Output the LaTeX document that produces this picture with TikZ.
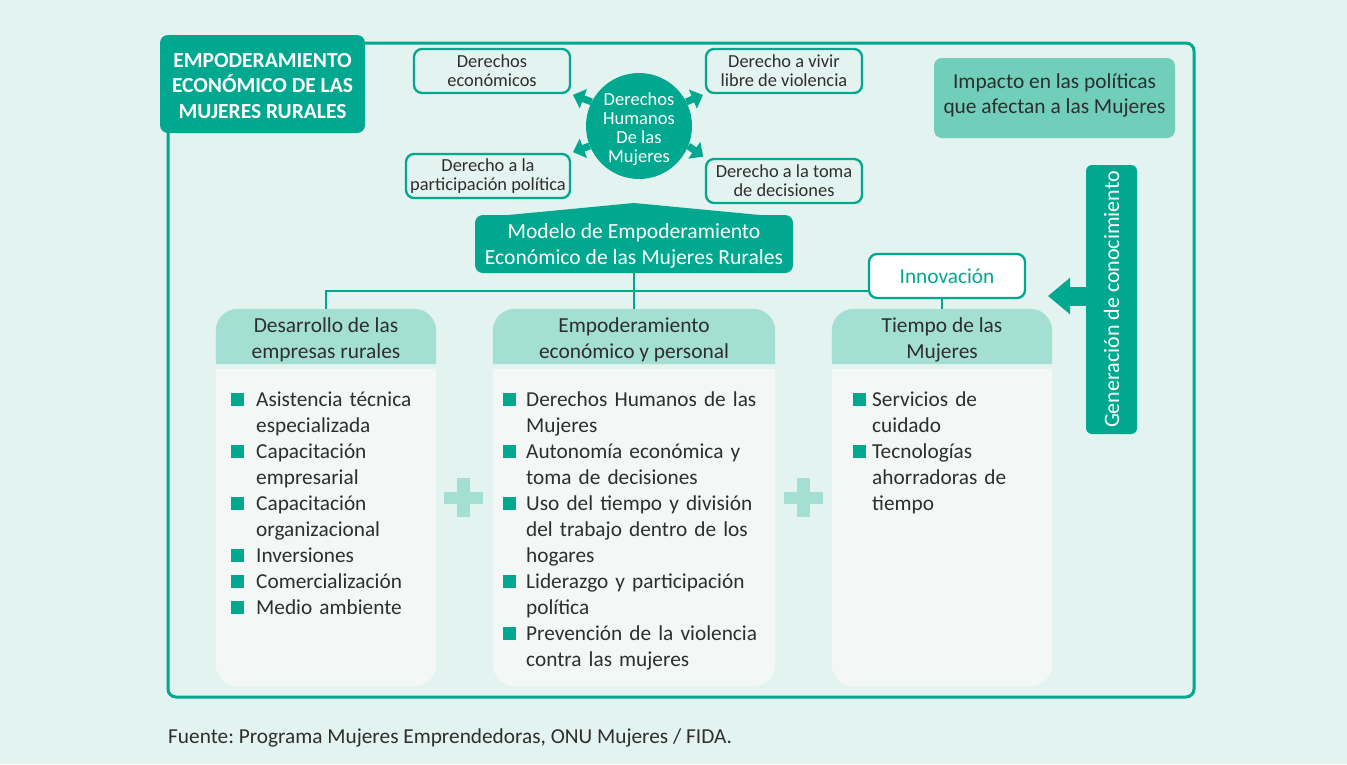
\documentclass[tikz,border=0pt]{standalone}
\usepackage{fontspec}
\setmainfont{Carlito}
\usetikzlibrary{arrows.meta}
\frenchspacing
\definecolor{tealc}{HTML}{00A88F}
\definecolor{bgc}{HTML}{E3F3EF}
\definecolor{hdrc}{HTML}{A4DFD3}
\definecolor{bodyc}{HTML}{F3F8F7}
\definecolor{impc}{HTML}{70CEBB}
\definecolor{txtc}{HTML}{2E2E2E}
\pgfdeclarelayer{back}
\pgfsetlayers{back,main}
\newcommand{\bitem}[2]{\hangindent=#1\hangafter=1\noindent\makebox[#1][l]{\textcolor{tealc}{\rule{13pt}{13pt}}}#2\par}
\tikzset{
  conn/.style={draw=tealc, line width=2.5pt},
  rbox/.style={draw=tealc, line width=2.3pt, rounded corners=8pt, fill=bgc, align=center, text=txtc,
     font=\fontsize{18.4}{19}\selectfont, inner sep=0pt, minimum height=44pt},
  carrow/.style={draw=tealc, line width=7pt, -{Triangle[length=11pt,width=20pt]}, shorten >=2pt},
  hdrtext/.style={align=center, text=txtc, font=\fontsize{21.4}{26}\selectfont, inner sep=0pt},
  bodynode/.style={inner sep=0pt},
  blist/.style={anchor=base west, inner sep=0pt, text width=320pt, text=txtc,
     font=\fontsize{21.3}{26}\selectfont, execute at begin node={\raggedright}},
  plusarm/.style={fill=hdrc},
}
\begin{document}
\begin{tikzpicture}[x=1pt,y=-1pt]
\useasboundingbox (0,0) rectangle (1347,764);
\begin{pgfonlayer}{back}
\fill[bgc] (0,0) rectangle (1347,764);
\end{pgfonlayer}

% outer frame
\draw[draw=tealc, line width=3pt, rounded corners=8pt] (168,43) rectangle (1194,697);

% title
\node[fill=tealc, rounded corners=8pt, minimum width=205pt, minimum height=98pt, inner sep=0pt] (title) at (262.5,84) {};
\node[text=white, align=center, inner sep=0pt, font=\bfseries\fontsize{21.5}{25.5}\selectfont] (titlet) at ([yshift=-2pt]title.center)
  {EMPODERAMIENTO\\ECONÓMICO DE LAS\\MUJERES RURALES};

% rights
\node[circle, fill=tealc, minimum size=106pt, inner sep=0pt] (hc) at (639,126) {};
\node[text=white, align=center, inner sep=0pt, font=\fontsize{18.5}{19}\selectfont] (hct) at ([yshift=-3.5pt]hc.center)
  {Derechos\\Humanos\\De las\\Mujeres};
\node[rbox, minimum width=156pt] (de) at (492,71) {Derechos\\económicos};
\node[rbox, minimum width=156pt] (dv) at (784,71) {Derecho a vivir\\libre de violencia};
\node[rbox, minimum width=164pt] (dp) at (488,176) {Derecho a la\\participación política};
\node[rbox, minimum width=156pt] (dt) at (784,181) {Derecho a la toma\\de decisiones};
\draw[carrow] (hc.153) -- (de.south east);
\draw[carrow] (hc.27) -- (dv.south west);
\draw[carrow] (hc.202) -- (dp.north east);
\draw[carrow] (hc.338) -- (dt.north west);

% impacto
\node[fill=impc, rounded corners=8pt, minimum width=241pt, minimum height=80pt, inner sep=0pt] (imp) at (1054.5,98) {};
\node[text=txtc, align=center, inner sep=0pt, font=\fontsize{21.4}{25}\selectfont] (impt) at ([yshift=3pt]imp.center)
  {Impacto en las políticas\\que afectan a las Mujeres};

% generacion
\node[fill=tealc, rounded corners=6pt, minimum width=269pt, minimum height=51pt, inner sep=0pt,
  text=white, rotate=90, font=\fontsize{22}{24}\selectfont] (gen) at (1111.5,299.5)
  {Generación de conocimiento};
\coordinate (gtip) at (1048,296);
\draw[draw=tealc, line width=19pt, -{Triangle[length=22pt,width=35pt]}] (gen.north |- gtip) -- (gtip);

% modelo
\node[fill=tealc, rounded corners=8pt, minimum width=318pt, minimum height=58pt, inner sep=0pt] (mod) at (634,244) {};
\fill[tealc] ([xshift=4pt,yshift=-3pt]mod.north west) -- (634,203) -- ([xshift=-4pt,yshift=-3pt]mod.north east) -- cycle;
\node[text=white, align=center, inner sep=0pt, font=\fontsize{21.6}{26}\selectfont] (modt) at ([yshift=-2pt]mod.center)
  {Modelo de Empoderamiento\\Económico de las Mujeres Rurales};

% innovacion
\node[draw=tealc, line width=2.3pt, fill=white, rounded corners=8pt, minimum width=156pt, minimum height=44pt,
  inner sep=0pt, text=tealc, font=\fontsize{21.3}{24}\selectfont] (inno) at (947,276) {Innovación};

% headers
\node[inner sep=0pt, minimum width=220pt, minimum height=55pt] (h1) at (326,336.5) {};
\node[inner sep=0pt, minimum width=282pt, minimum height=55pt] (h2) at (634,336.5) {};
\node[inner sep=0pt, minimum width=220pt, minimum height=55pt] (h3) at (942,336.5) {};
\node[hdrtext] (h1t) at ([yshift=-3pt]h1.center) {Desarrollo de las\\empresas rurales};
\node[hdrtext] (h2t) at ([yshift=-3pt]h2.center) {Empoderamiento\\económico y personal};
\node[hdrtext] (h3t) at ([yshift=-3pt]h3.center) {Tiempo de las\\Mujeres};
\node[bodynode, minimum width=220pt, minimum height=317pt] (b1) at (326,527.5) {};
\node[bodynode, minimum width=282pt, minimum height=317pt] (b2) at (634,527.5) {};
\node[bodynode, minimum width=220pt, minimum height=317pt] (b3) at (942,527.5) {};
\begin{pgfonlayer}{back}
\foreach \h in {h1,h2,h3}{
  \fill[hdrc] (\h.south west) [rounded corners=22pt] -- (\h.north west) -- (\h.north east) [sharp corners] -- (\h.south east) -- cycle;
}
\foreach \b in {b1,b2,b3}{
  \fill[bodyc] (\b.north east) [rounded corners=22pt] -- (\b.south east) -- (\b.south west) [sharp corners] -- (\b.north west) -- cycle;
}
\end{pgfonlayer}

% connectors
\coordinate (ly) at (0,291);
\draw[conn] (mod.south) -- (h2.north);
\draw[conn] (h1.north) -- (h1.north |- ly) -- (inno.west |- ly);
\draw[conn] (inno.south -| h3.north) -- (h3.north);

% lists
\node[blist] (l1) at (231,406) {%
\bitem{25pt}{Asistencia técnica\newline especializada}%
\bitem{25pt}{Capacitación\newline empresarial}%
\bitem{25pt}{Capacitación\newline organizacional}%
\bitem{25pt}{Inversiones}%
\bitem{25pt}{Comercialización}%
\bitem{25pt}{Medio ambiente}};
\node[blist] (l2) at (503,406) {%
\bitem{23pt}{Derechos Humanos de las\newline Mujeres}%
\bitem{23pt}{Autonomía económica y\newline toma de decisiones}%
\bitem{23pt}{Uso del tiempo y división\newline del trabajo dentro de los\newline hogares}%
\bitem{23pt}{Liderazgo y participación\newline política}%
\bitem{23pt}{Prevención de la violencia\newline contra las mujeres}};
\node[blist] (l3) at (853,406) {%
\bitem{19pt}{Servicios de\newline cuidado}%
\bitem{19pt}{Tecnologías\newline ahorradoras de\newline tiempo}};

% plus signs
\node[inner sep=0pt, minimum size=39pt] (p1) at (463.5,497.5) {};
\node[inner sep=0pt, minimum size=39pt] (p2) at (803.5,497.5) {};
\foreach \p in {p1,p2}{
  \fill[plusarm] ([yshift=6pt]\p.west) rectangle ([yshift=-6pt]\p.east);
  \fill[plusarm] ([xshift=-6.5pt]\p.north) rectangle ([xshift=6.5pt]\p.south);
}

% footer
\node[anchor=base west, inner sep=0pt, text=txtc, font=\fontsize{21.3}{24}\selectfont] (src) at (168,743)
  {Fuente: Programa Mujeres Emprendedoras, ONU Mujeres / FIDA.};
\end{tikzpicture}
\end{document}
